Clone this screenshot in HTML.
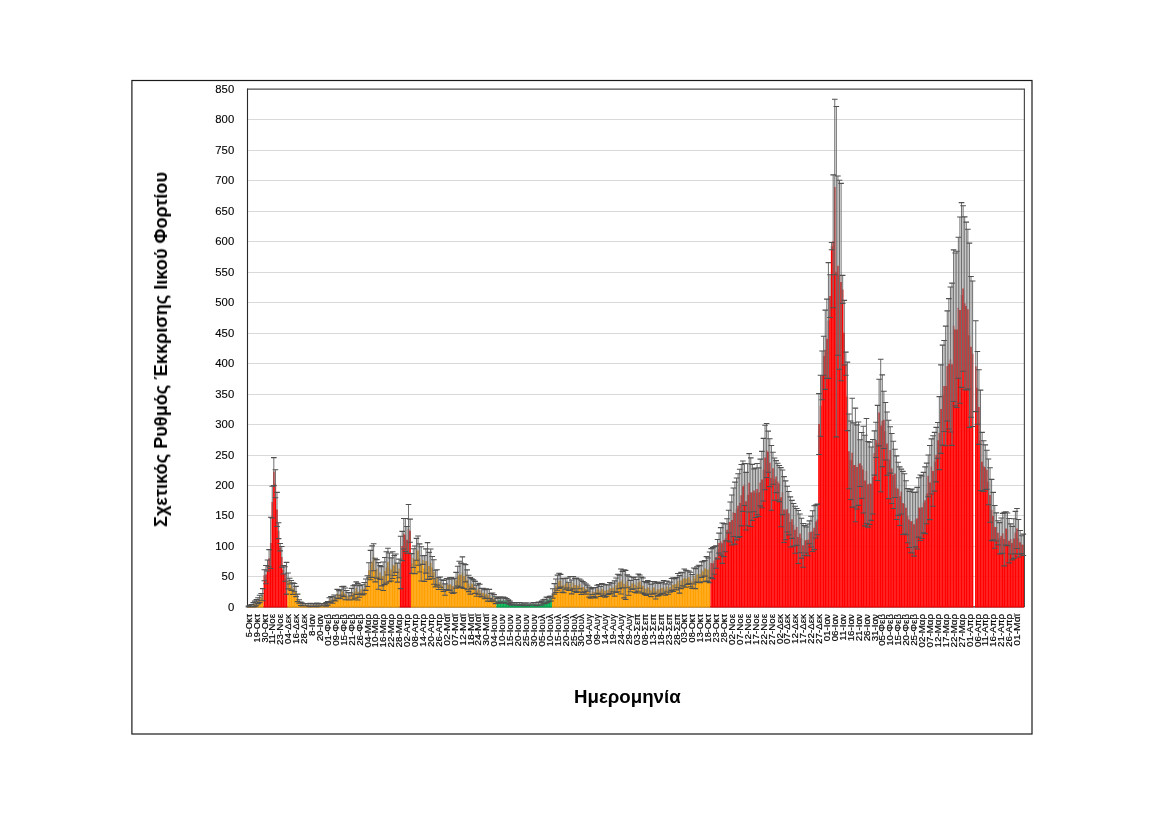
<!DOCTYPE html><html><head><meta charset="utf-8"><style>html,body{margin:0;padding:0;background:#fff;}svg{display:block;}text{font-family:"Liberation Sans",sans-serif;}.gt{opacity:0.999;}</style></head><body><svg width="1169" height="826" viewBox="0 0 1169 826"><rect x="0" y="0" width="1169" height="826" fill="#fff"/><rect x="131.9" y="80.5" width="900.1" height="653.5" fill="none" stroke="#1a1a1a" stroke-width="1.2"/><path d="M247.7 576.50H1024 M247.7 546.50H1024 M247.7 515.50H1024 M247.7 485.50H1024 M247.7 455.50H1024 M247.7 424.50H1024 M247.7 394.50H1024 M247.7 363.50H1024 M247.7 333.50H1024 M247.7 302.50H1024 M247.7 272.50H1024 M247.7 241.50H1024 M247.7 211.50H1024 M247.7 180.50H1024 M247.7 150.50H1024 M247.7 119.50H1024" stroke="#d9d9d9" stroke-width="1" fill="none"/><path d="M247.5 89.2H1024.4V606.90" fill="none" stroke="#4d4d4d" stroke-width="1.2"/><path d="M1024.4 606.90H247.5V88.6" fill="none" stroke="#2a2a2a" stroke-width="1.1"/><path d="M247.76 607.40V606.60h1.46V607.40zM249.34 607.40V606.29h1.46V607.40zM250.93 607.40V605.68h1.46V607.40zM252.51 607.40V605.07h1.46V607.40zM254.10 607.40V603.85h1.46V607.40zM255.68 607.40V602.63h1.46V607.40zM257.27 607.40V600.81h1.46V607.40zM258.85 607.40V598.98h1.46V607.40zM260.44 607.40V597.15h1.46V607.40zM262.02 607.40V594.71h1.46V607.40zM287.37 607.40V580.98h1.46V607.40zM288.96 607.40V581.19h1.46V607.40zM290.54 607.40V585.45h1.46V607.40zM292.13 607.40V588.55h1.46V607.40zM293.71 607.40V587.62h1.46V607.40zM295.30 607.40V591.47h1.46V607.40zM296.88 607.40V597.88h1.46V607.40zM298.46 607.40V601.57h1.46V607.40zM300.05 607.40V603.80h1.46V607.40zM301.63 607.40V604.43h1.46V607.40zM303.22 607.40V604.80h1.46V607.40zM304.80 607.40V604.64h1.46V607.40zM306.39 607.40V604.90h1.46V607.40zM307.97 607.40V605.05h1.46V607.40zM309.56 607.40V604.90h1.46V607.40zM311.14 607.40V604.93h1.46V607.40zM312.72 607.40V605.00h1.46V607.40zM314.31 607.40V605.09h1.46V607.40zM315.89 607.40V604.78h1.46V607.40zM317.48 607.40V604.81h1.46V607.40zM319.06 607.40V605.03h1.46V607.40zM320.65 607.40V605.01h1.46V607.40zM322.23 607.40V604.71h1.46V607.40zM323.82 607.40V604.62h1.46V607.40zM325.40 607.40V604.34h1.46V607.40zM326.98 607.40V603.35h1.46V607.40zM328.57 607.40V600.40h1.46V607.40zM330.15 607.40V599.19h1.46V607.40zM331.74 607.40V600.03h1.46V607.40zM333.32 607.40V597.67h1.46V607.40zM334.91 607.40V597.99h1.46V607.40zM336.49 607.40V593.77h1.46V607.40zM338.08 607.40V594.79h1.46V607.40zM339.66 607.40V593.98h1.46V607.40zM341.25 607.40V590.95h1.46V607.40zM342.83 607.40V591.46h1.46V607.40zM344.41 607.40V593.87h1.46V607.40zM346.00 607.40V595.14h1.46V607.40zM347.58 607.40V596.24h1.46V607.40zM349.17 607.40V596.34h1.46V607.40zM350.75 607.40V592.13h1.46V607.40zM352.34 607.40V592.75h1.46V607.40zM353.92 607.40V591.50h1.46V607.40zM355.51 607.40V588.10h1.46V607.40zM357.09 607.40V591.71h1.46V607.40zM358.68 607.40V591.45h1.46V607.40zM360.26 607.40V589.30h1.46V607.40zM361.84 607.40V589.76h1.46V607.40zM363.43 607.40V588.17h1.46V607.40zM365.01 607.40V584.66h1.46V607.40zM366.60 607.40V581.09h1.46V607.40zM368.18 607.40V570.28h1.46V607.40zM369.77 607.40V565.07h1.46V607.40zM371.35 607.40V561.61h1.46V607.40zM372.94 607.40V557.24h1.46V607.40zM374.52 607.40V570.05h1.46V607.40zM376.10 607.40V568.84h1.46V607.40zM377.69 607.40V575.99h1.46V607.40zM379.27 607.40V572.50h1.46V607.40zM380.86 607.40V576.33h1.46V607.40zM382.44 607.40V576.25h1.46V607.40zM384.03 607.40V571.06h1.46V607.40zM385.61 607.40V567.49h1.46V607.40zM387.20 607.40V561.64h1.46V607.40zM388.78 607.40V567.39h1.46V607.40zM390.36 607.40V569.48h1.46V607.40zM391.95 607.40V565.12h1.46V607.40zM393.53 607.40V565.56h1.46V607.40zM395.12 607.40V563.21h1.46V607.40zM396.70 607.40V572.62h1.46V607.40zM398.29 607.40V568.44h1.46V607.40zM410.96 607.40V563.52h1.46V607.40zM412.55 607.40V558.10h1.46V607.40zM414.13 607.40V559.77h1.46V607.40zM415.72 607.40V549.28h1.46V607.40zM417.30 607.40V550.68h1.46V607.40zM418.89 607.40V557.93h1.46V607.40zM420.47 607.40V563.82h1.46V607.40zM422.06 607.40V560.08h1.46V607.40zM423.64 607.40V568.40h1.46V607.40zM425.22 607.40V561.01h1.46V607.40zM426.81 607.40V560.93h1.46V607.40zM428.39 607.40V565.92h1.46V607.40zM429.98 607.40V562.81h1.46V607.40zM431.56 607.40V567.62h1.46V607.40zM433.15 607.40V571.96h1.46V607.40zM434.73 607.40V578.54h1.46V607.40zM436.32 607.40V577.46h1.46V607.40zM437.90 607.40V583.59h1.46V607.40zM439.48 607.40V582.08h1.46V607.40zM441.07 607.40V584.59h1.46V607.40zM442.65 607.40V585.93h1.46V607.40zM444.24 607.40V589.56h1.46V607.40zM445.82 607.40V584.13h1.46V607.40zM447.41 607.40V584.73h1.46V607.40zM448.99 607.40V583.90h1.46V607.40zM450.58 607.40V584.82h1.46V607.40zM452.16 607.40V586.23h1.46V607.40zM453.75 607.40V585.46h1.46V607.40zM455.33 607.40V580.23h1.46V607.40zM456.91 607.40V576.21h1.46V607.40zM458.50 607.40V574.40h1.46V607.40zM460.08 607.40V575.11h1.46V607.40zM461.67 607.40V572.46h1.46V607.40zM463.25 607.40V576.10h1.46V607.40zM464.84 607.40V573.25h1.46V607.40zM466.42 607.40V579.81h1.46V607.40zM468.01 607.40V583.44h1.46V607.40zM469.59 607.40V585.85h1.46V607.40zM471.17 607.40V583.58h1.46V607.40zM472.76 607.40V584.51h1.46V607.40zM474.34 607.40V587.34h1.46V607.40zM475.93 607.40V590.68h1.46V607.40zM477.51 607.40V588.75h1.46V607.40zM479.10 607.40V590.22h1.46V607.40zM480.68 607.40V592.68h1.46V607.40zM482.27 607.40V592.72h1.46V607.40zM483.85 607.40V594.27h1.46V607.40zM485.44 607.40V593.56h1.46V607.40zM487.02 607.40V595.29h1.46V607.40zM488.60 607.40V593.99h1.46V607.40zM490.19 607.40V597.50h1.46V607.40zM491.77 607.40V596.58h1.46V607.40zM493.36 607.40V598.22h1.46V607.40zM494.94 607.40V600.19h1.46V607.40zM551.98 607.40V593.46h1.46V607.40zM553.57 607.40V588.88h1.46V607.40zM555.15 607.40V585.76h1.46V607.40zM556.74 607.40V582.72h1.46V607.40zM558.32 607.40V580.81h1.46V607.40zM559.91 607.40V580.74h1.46V607.40zM561.49 607.40V585.54h1.46V607.40zM563.08 607.40V585.51h1.46V607.40zM564.66 607.40V583.87h1.46V607.40zM566.24 607.40V583.12h1.46V607.40zM567.83 607.40V586.38h1.46V607.40zM569.41 607.40V583.39h1.46V607.40zM571.00 607.40V586.96h1.46V607.40zM572.58 607.40V582.70h1.46V607.40zM574.17 607.40V584.92h1.46V607.40zM575.75 607.40V585.32h1.46V607.40zM577.34 607.40V585.41h1.46V607.40zM578.92 607.40V583.94h1.46V607.40zM580.50 607.40V587.41h1.46V607.40zM582.09 607.40V587.03h1.46V607.40zM583.67 607.40V587.28h1.46V607.40zM585.26 607.40V589.02h1.46V607.40zM586.84 607.40V588.20h1.46V607.40zM588.43 607.40V592.12h1.46V607.40zM590.01 607.40V593.60h1.46V607.40zM591.60 607.40V591.30h1.46V607.40zM593.18 607.40V592.10h1.46V607.40zM594.77 607.40V592.77h1.46V607.40zM596.35 607.40V589.31h1.46V607.40zM597.93 607.40V589.40h1.46V607.40zM599.52 607.40V591.45h1.46V607.40zM601.10 607.40V588.80h1.46V607.40zM602.69 607.40V589.97h1.46V607.40zM604.27 607.40V590.86h1.46V607.40zM605.86 607.40V590.52h1.46V607.40zM607.44 607.40V589.65h1.46V607.40zM609.03 607.40V588.02h1.46V607.40zM610.61 607.40V588.50h1.46V607.40zM612.19 607.40V587.45h1.46V607.40zM613.78 607.40V588.49h1.46V607.40zM615.36 607.40V585.21h1.46V607.40zM616.95 607.40V582.97h1.46V607.40zM618.53 607.40V581.86h1.46V607.40zM620.12 607.40V581.50h1.46V607.40zM621.70 607.40V579.65h1.46V607.40zM623.29 607.40V583.87h1.46V607.40zM624.87 607.40V584.92h1.46V607.40zM626.46 607.40V581.32h1.46V607.40zM628.04 607.40V585.68h1.46V607.40zM629.62 607.40V586.01h1.46V607.40zM631.21 607.40V583.21h1.46V607.40zM632.79 607.40V583.26h1.46V607.40zM634.38 607.40V584.71h1.46V607.40zM635.96 607.40V586.30h1.46V607.40zM637.55 607.40V582.61h1.46V607.40zM639.13 607.40V581.61h1.46V607.40zM640.72 607.40V584.97h1.46V607.40zM642.30 607.40V585.63h1.46V607.40zM643.88 607.40V587.96h1.46V607.40zM645.47 607.40V588.98h1.46V607.40zM647.05 607.40V587.32h1.46V607.40zM648.64 607.40V587.89h1.46V607.40zM650.22 607.40V590.34h1.46V607.40zM651.81 607.40V587.97h1.46V607.40zM653.39 607.40V587.40h1.46V607.40zM654.98 607.40V591.17h1.46V607.40zM656.56 607.40V589.13h1.46V607.40zM658.15 607.40V589.58h1.46V607.40zM659.73 607.40V588.49h1.46V607.40zM661.31 607.40V587.89h1.46V607.40zM662.90 607.40V587.20h1.46V607.40zM664.48 607.40V589.55h1.46V607.40zM666.07 607.40V586.60h1.46V607.40zM667.65 607.40V589.13h1.46V607.40zM669.24 607.40V587.18h1.46V607.40zM670.82 607.40V584.43h1.46V607.40zM672.41 607.40V584.65h1.46V607.40zM673.99 607.40V584.31h1.46V607.40zM675.57 607.40V583.73h1.46V607.40zM677.16 607.40V580.65h1.46V607.40zM678.74 607.40V584.36h1.46V607.40zM680.33 607.40V580.54h1.46V607.40zM681.91 607.40V579.29h1.46V607.40zM683.50 607.40V578.03h1.46V607.40zM685.08 607.40V578.77h1.46V607.40zM686.67 607.40V577.63h1.46V607.40zM688.25 607.40V577.29h1.46V607.40zM689.84 607.40V579.48h1.46V607.40zM691.42 607.40V581.42h1.46V607.40zM693.00 607.40V576.02h1.46V607.40zM694.59 607.40V578.59h1.46V607.40zM696.17 607.40V574.49h1.46V607.40zM697.76 607.40V573.87h1.46V607.40zM699.34 607.40V574.27h1.46V607.40zM700.93 607.40V569.63h1.46V607.40zM702.51 607.40V571.52h1.46V607.40zM704.10 607.40V568.32h1.46V607.40zM705.68 607.40V568.88h1.46V607.40zM707.26 607.40V569.87h1.46V607.40zM708.85 607.40V567.41h1.46V607.40z" fill="#ffa000"/><path d="M263.61 607.40V575.21h1.46V607.40zM265.19 607.40V574.60h1.46V607.40zM266.77 607.40V565.46h1.46V607.40zM268.36 607.40V558.15h1.46V607.40zM269.94 607.40V542.91h1.46V607.40zM271.53 607.40V502.08h1.46V607.40zM273.11 607.40V471.61h1.46V607.40zM274.70 607.40V483.80h1.46V607.40zM276.28 607.40V509.39h1.46V607.40zM277.87 607.40V530.72h1.46V607.40zM279.45 607.40V547.18h1.46V607.40zM281.03 607.40V556.93h1.46V607.40zM282.62 607.40V569.73h1.46V607.40zM284.20 607.40V573.99h1.46V607.40zM285.79 607.40V578.26h1.46V607.40zM399.87 607.40V562.41h1.46V607.40zM401.46 607.40V545.96h1.46V607.40zM403.04 607.40V533.77h1.46V607.40zM404.63 607.40V534.99h1.46V607.40zM406.21 607.40V539.86h1.46V607.40zM407.79 607.40V528.90h1.46V607.40zM409.38 607.40V530.72h1.46V607.40zM710.43 607.40V563.11h1.46V607.40zM712.02 607.40V563.14h1.46V607.40zM713.60 607.40V560.46h1.46V607.40zM715.19 607.40V556.95h1.46V607.40zM716.77 607.40V549.21h1.46V607.40zM718.36 607.40V543.11h1.46V607.40zM719.94 607.40V541.34h1.46V607.40zM721.53 607.40V543.23h1.46V607.40zM723.11 607.40V540.07h1.46V607.40zM724.69 607.40V537.91h1.46V607.40zM726.28 607.40V529.82h1.46V607.40zM727.86 607.40V521.65h1.46V607.40zM729.45 607.40V522.02h1.46V607.40zM731.03 607.40V519.97h1.46V607.40zM732.62 607.40V512.25h1.46V607.40zM734.20 607.40V513.11h1.46V607.40zM735.79 607.40V508.92h1.46V607.40zM737.37 607.40V505.65h1.46V607.40zM738.95 607.40V502.94h1.46V607.40zM740.54 607.40V495.19h1.46V607.40zM742.12 607.40V486.18h1.46V607.40zM743.71 607.40V484.52h1.46V607.40zM745.29 607.40V501.19h1.46V607.40zM746.88 607.40V494.71h1.46V607.40zM748.46 607.40V482.78h1.46V607.40zM750.05 607.40V492.18h1.46V607.40zM751.63 607.40V492.39h1.46V607.40zM753.22 607.40V490.38h1.46V607.40zM754.80 607.40V492.77h1.46V607.40zM756.38 607.40V489.09h1.46V607.40zM757.97 607.40V492.18h1.46V607.40zM759.55 607.40V482.49h1.46V607.40zM761.14 607.40V479.52h1.46V607.40zM762.72 607.40V469.70h1.46V607.40zM764.31 607.40V457.48h1.46V607.40zM765.89 607.40V450.56h1.46V607.40zM767.48 607.40V451.72h1.46V607.40zM769.06 607.40V462.66h1.46V607.40zM770.64 607.40V477.92h1.46V607.40zM772.23 607.40V468.23h1.46V607.40zM773.81 607.40V479.17h1.46V607.40zM775.40 607.40V476.60h1.46V607.40zM776.98 607.40V481.60h1.46V607.40zM778.57 607.40V483.60h1.46V607.40zM780.15 607.40V497.24h1.46V607.40zM781.74 607.40V492.31h1.46V607.40zM783.32 607.40V509.56h1.46V607.40zM784.91 607.40V510.29h1.46V607.40zM786.49 607.40V509.10h1.46V607.40zM788.07 607.40V513.20h1.46V607.40zM789.66 607.40V521.95h1.46V607.40zM791.24 607.40V519.36h1.46V607.40zM792.83 607.40V524.75h1.46V607.40zM794.41 607.40V529.77h1.46V607.40zM796.00 607.40V526.93h1.46V607.40zM797.58 607.40V537.06h1.46V607.40zM799.17 607.40V533.39h1.46V607.40zM800.75 607.40V538.19h1.46V607.40zM802.34 607.40V545.34h1.46V607.40zM803.92 607.40V540.54h1.46V607.40zM805.50 607.40V539.99h1.46V607.40zM807.09 607.40V539.78h1.46V607.40zM808.67 607.40V532.32h1.46V607.40zM810.26 607.40V531.63h1.46V607.40zM811.84 607.40V531.15h1.46V607.40zM813.43 607.40V527.71h1.46V607.40zM815.01 607.40V521.43h1.46V607.40zM816.60 607.40V519.43h1.46V607.40zM818.18 607.40V424.08h1.46V607.40zM819.76 607.40V405.79h1.46V607.40zM821.35 607.40V375.32h1.46V607.40zM822.93 607.40V355.82h1.46V607.40zM824.52 607.40V349.73h1.46V607.40zM826.10 607.40V338.76h1.46V607.40zM827.69 607.40V320.48h1.46V607.40zM829.27 607.40V296.10h1.46V607.40zM830.86 607.40V246.13h1.46V607.40zM832.44 607.40V241.25h1.46V607.40zM834.02 607.40V187.02h1.46V607.40zM835.61 607.40V271.72h1.46V607.40zM837.19 607.40V265.63h1.46V607.40zM838.78 607.40V274.77h1.46V607.40zM840.36 607.40V282.08h1.46V607.40zM841.95 607.40V289.40h1.46V607.40zM843.53 607.40V332.66h1.46V607.40zM845.12 607.40V363.74h1.46V607.40zM846.70 607.40V396.40h1.46V607.40zM848.29 607.40V451.37h1.46V607.40zM849.87 607.40V460.25h1.46V607.40zM851.45 607.40V452.68h1.46V607.40zM853.04 607.40V464.93h1.46V607.40zM854.62 607.40V464.93h1.46V607.40zM856.21 607.40V466.94h1.46V607.40zM857.79 607.40V463.68h1.46V607.40zM859.38 607.40V463.19h1.46V607.40zM860.96 607.40V465.44h1.46V607.40zM862.55 607.40V469.62h1.46V607.40zM864.13 607.40V480.55h1.46V607.40zM865.71 607.40V471.01h1.46V607.40zM867.30 607.40V484.31h1.46V607.40zM868.88 607.40V483.24h1.46V607.40zM870.47 607.40V483.73h1.46V607.40zM872.05 607.40V476.75h1.46V607.40zM873.64 607.40V453.04h1.46V607.40zM875.22 607.40V439.91h1.46V607.40zM876.81 607.40V442.95h1.46V607.40zM878.39 607.40V412.55h1.46V607.40zM879.98 607.40V425.51h1.46V607.40zM881.56 607.40V420.77h1.46V607.40zM883.14 607.40V419.85h1.46V607.40zM884.73 607.40V431.24h1.46V607.40zM886.31 607.40V443.62h1.46V607.40zM887.90 607.40V459.44h1.46V607.40zM889.48 607.40V449.98h1.46V607.40zM891.07 607.40V468.47h1.46V607.40zM892.65 607.40V474.94h1.46V607.40zM894.24 607.40V473.38h1.46V607.40zM895.82 607.40V487.73h1.46V607.40zM897.40 607.40V488.78h1.46V607.40zM898.99 607.40V496.22h1.46V607.40zM900.57 607.40V491.61h1.46V607.40zM902.16 607.40V502.93h1.46V607.40zM903.74 607.40V503.89h1.46V607.40zM905.33 607.40V507.72h1.46V607.40zM906.91 607.40V515.71h1.46V607.40zM908.50 607.40V519.50h1.46V607.40zM910.08 607.40V521.37h1.46V607.40zM911.67 607.40V520.99h1.46V607.40zM913.25 607.40V524.32h1.46V607.40zM914.83 607.40V519.48h1.46V607.40zM916.42 607.40V518.24h1.46V607.40zM918.00 607.40V507.46h1.46V607.40zM919.59 607.40V507.75h1.46V607.40zM921.17 607.40V507.24h1.46V607.40zM922.76 607.40V502.63h1.46V607.40zM924.34 607.40V500.26h1.46V607.40zM925.93 607.40V493.44h1.46V607.40zM927.51 607.40V475.84h1.46V607.40zM929.10 607.40V482.57h1.46V607.40zM930.68 607.40V466.44h1.46V607.40zM932.26 607.40V470.98h1.46V607.40zM933.85 607.40V461.76h1.46V607.40zM935.43 607.40V454.64h1.46V607.40zM937.02 607.40V440.34h1.46V607.40zM938.60 607.40V433.10h1.46V607.40zM940.19 607.40V409.10h1.46V607.40zM941.77 607.40V395.14h1.46V607.40zM943.36 607.40V385.97h1.46V607.40zM944.94 607.40V385.96h1.46V607.40zM946.52 607.40V365.99h1.46V607.40zM948.11 607.40V363.81h1.46V607.40zM949.69 607.40V359.51h1.46V607.40zM951.28 607.40V364.24h1.46V607.40zM952.86 607.40V325.73h1.46V607.40zM954.45 607.40V329.49h1.46V607.40zM956.03 607.40V329.38h1.46V607.40zM957.62 607.40V307.71h1.46V607.40zM959.20 607.40V310.08h1.46V607.40zM960.78 607.40V295.01h1.46V607.40zM962.37 607.40V288.51h1.46V607.40zM963.95 607.40V303.30h1.46V607.40zM965.54 607.40V306.08h1.46V607.40zM967.12 607.40V309.17h1.46V607.40zM968.71 607.40V335.26h1.46V607.40zM970.29 607.40V346.87h1.46V607.40zM971.88 607.40V353.73h1.46V607.40zM975.05 607.40V366.22h1.46V607.40zM976.63 607.40V387.85h1.46V607.40zM978.21 607.40V407.07h1.46V607.40zM979.80 607.40V440.30h1.46V607.40zM981.38 607.40V461.65h1.46V607.40zM982.97 607.40V466.15h1.46V607.40zM984.55 607.40V467.29h1.46V607.40zM986.14 607.40V469.77h1.46V607.40zM987.72 607.40V481.90h1.46V607.40zM989.31 607.40V495.06h1.46V607.40zM990.89 607.40V510.00h1.46V607.40zM992.47 607.40V516.06h1.46V607.40zM994.06 607.40V526.90h1.46V607.40zM995.64 607.40V526.93h1.46V607.40zM997.23 607.40V532.76h1.46V607.40zM998.81 607.40V538.32h1.46V607.40zM1000.40 607.40V535.84h1.46V607.40zM1001.98 607.40V533.37h1.46V607.40zM1003.57 607.40V539.02h1.46V607.40zM1005.15 607.40V528.43h1.46V607.40zM1006.74 607.40V529.32h1.46V607.40zM1008.32 607.40V540.71h1.46V607.40zM1009.90 607.40V538.94h1.46V607.40zM1011.49 607.40V543.12h1.46V607.40zM1013.07 607.40V538.51h1.46V607.40zM1014.66 607.40V532.62h1.46V607.40zM1016.24 607.40V528.46h1.46V607.40zM1017.83 607.40V538.25h1.46V607.40zM1019.41 607.40V542.36h1.46V607.40zM1021.00 607.40V544.61h1.46V607.40zM1022.58 607.40V544.77h1.46V607.40z" fill="#ff0000"/><path d="M496.53 607.40V600.93h1.46V607.40zM498.11 607.40V600.15h1.46V607.40zM499.70 607.40V599.49h1.46V607.40zM501.28 607.40V600.71h1.46V607.40zM502.86 607.40V599.85h1.46V607.40zM504.45 607.40V600.39h1.46V607.40zM506.03 607.40V600.86h1.46V607.40zM507.62 607.40V601.77h1.46V607.40zM509.20 607.40V602.74h1.46V607.40zM510.79 607.40V603.86h1.46V607.40zM512.37 607.40V603.70h1.46V607.40zM513.96 607.40V604.08h1.46V607.40zM515.54 607.40V603.79h1.46V607.40zM517.12 607.40V603.90h1.46V607.40zM518.71 607.40V604.10h1.46V607.40zM520.29 607.40V603.76h1.46V607.40zM521.88 607.40V603.78h1.46V607.40zM523.46 607.40V604.40h1.46V607.40zM525.05 607.40V604.09h1.46V607.40zM526.63 607.40V604.30h1.46V607.40zM528.22 607.40V603.99h1.46V607.40zM529.80 607.40V603.95h1.46V607.40zM531.39 607.40V604.08h1.46V607.40zM532.97 607.40V603.96h1.46V607.40zM534.55 607.40V603.95h1.46V607.40zM536.14 607.40V604.20h1.46V607.40zM537.72 607.40V603.55h1.46V607.40zM539.31 607.40V603.80h1.46V607.40zM540.89 607.40V603.05h1.46V607.40zM542.48 607.40V601.43h1.46V607.40zM544.06 607.40V601.58h1.46V607.40zM545.65 607.40V600.03h1.46V607.40zM547.23 607.40V599.79h1.46V607.40zM548.81 607.40V598.82h1.46V607.40zM550.40 607.40V598.47h1.46V607.40z" fill="#00b050"/><path d="M248.49 605.99V606.90M250.08 605.07V606.90M251.66 604.46V606.90M253.25 602.63V606.90M254.83 601.11V606.60M256.41 599.59V605.68M258.00 597.76V603.85M259.58 595.32V602.63M261.17 593.49V600.81M262.75 588.62V600.81M264.34 569.73V580.70M265.92 565.46V583.74M267.51 559.98V570.94M269.09 549.62V566.68M270.68 517.32V568.51M272.26 486.24V517.93M273.84 457.59V485.63M275.43 469.78V497.82M277.01 492.33V526.46M278.60 522.80V538.65M280.18 543.52V550.83M281.77 546.57V567.29M283.35 565.46V573.99M284.94 566.68V581.30M286.52 562.41V594.10M288.10 573.07V588.89M289.69 578.32V584.06M291.27 580.49V590.40M292.86 582.77V594.34M294.44 583.52V591.73M296.03 586.36V596.59M297.61 594.14V601.61M299.20 599.82V603.32M300.78 602.04V605.55M302.37 602.95V605.90M303.95 603.63V605.96M305.53 603.50V605.78M307.12 603.75V606.06M308.70 603.80V606.31M310.29 603.19V606.61M311.87 603.53V606.32M313.46 603.59V606.41M315.04 604.05V606.13M316.63 602.98V606.59M318.21 603.35V606.27M319.79 604.02V606.05M321.38 604.03V605.98M322.96 603.60V605.82M324.55 603.52V605.72M326.13 602.58V606.11M327.72 601.62V605.09M329.30 597.75V603.05M330.89 596.50V601.88M332.47 596.86V603.20M334.06 595.04V600.31M335.64 594.95V601.02M337.22 589.41V598.13M338.81 590.76V598.82M340.39 589.78V598.17M341.98 586.67V595.22M343.56 586.41V596.52M345.15 587.93V599.81M346.73 590.46V599.82M348.32 592.55V599.93M349.90 592.72V599.97M351.48 588.35V595.91M353.07 585.78V599.72M354.65 584.84V598.15M356.24 581.83V594.37M357.82 583.42V599.99M359.41 585.70V597.21M360.99 584.76V593.85M362.58 584.68V594.84M364.16 582.52V593.82M365.75 578.97V590.35M367.33 575.69V586.50M368.91 562.75V577.81M370.50 550.34V579.80M372.08 545.83V577.40M373.67 543.78V570.70M375.25 558.25V581.85M376.84 559.59V578.09M378.42 562.67V589.31M380.01 565.61V579.40M381.59 566.76V585.90M383.17 562.05V590.44M384.76 557.48V584.64M386.34 551.82V583.15M387.93 548.32V574.96M389.51 552.98V581.80M391.10 557.92V581.03M392.68 551.74V578.50M394.27 555.55V575.57M395.85 554.07V572.34M397.44 563.16V582.08M399.02 559.17V577.71M400.60 536.21V588.62M402.19 531.33V560.58M403.77 518.54V549.01M405.36 518.54V551.44M406.94 526.46V553.27M408.53 504.52V553.27M410.11 519.14V542.30M411.70 553.64V573.39M413.28 548.77V567.43M414.86 545.95V573.59M416.45 538.37V560.20M418.03 536.06V565.31M419.62 543.85V572.02M421.20 546.69V580.94M422.79 555.82V564.33M424.37 555.44V581.37M425.96 548.84V573.17M427.54 542.65V579.21M429.13 552.38V579.47M430.71 549.05V576.57M432.29 556.48V578.76M433.88 559.73V584.19M435.46 570.24V586.84M437.05 569.80V585.11M438.63 577.69V589.49M440.22 576.93V587.22M441.80 579.70V589.48M443.39 580.44V591.41M444.97 583.84V595.29M446.55 578.65V589.62M448.14 579.13V590.33M449.72 577.70V590.09M451.31 577.45V592.18M452.89 578.98V593.48M454.48 578.22V592.71M456.06 572.36V588.10M457.65 566.29V586.13M459.23 561.24V587.56M460.82 563.08V587.14M462.40 556.86V588.06M463.98 563.72V588.48M465.57 564.59V581.91M467.15 569.91V589.71M468.74 575.24V591.64M470.32 577.61V594.10M471.91 578.75V588.40M473.49 579.89V589.13M475.08 581.33V593.36M476.66 585.12V596.23M478.24 583.32V594.19M479.83 584.21V596.22M481.41 588.41V596.96M483.00 588.37V597.06M484.58 589.74V598.80M486.17 588.87V598.25M487.75 589.50V601.08M489.34 589.38V598.61M490.92 593.48V601.51M492.51 593.03V600.14M494.09 594.63V601.81M495.67 596.71V603.66M497.26 598.38V603.48M498.84 597.62V602.69M500.43 596.91V602.07M502.01 598.18V603.25M503.60 597.15V602.54M505.18 597.69V603.08M506.77 598.46V603.26M508.35 599.92V603.63M509.93 601.14V604.34M511.52 602.44V605.28M513.10 602.52V604.88M514.69 602.86V605.31M516.27 602.52V605.07M517.86 602.58V605.22M519.44 602.63V605.57M521.03 602.69V604.83M522.61 602.75V604.82M524.20 603.09V605.72M525.78 602.87V605.31M527.36 602.93V605.68M528.95 602.99V605.00M530.53 602.96V604.95M532.12 602.97V605.20M533.70 602.67V605.25M535.29 602.73V605.16M536.87 602.67V605.73M538.46 601.93V605.16M540.04 602.39V605.20M541.62 601.08V605.02M543.21 599.82V603.05M544.79 599.41V603.75M546.38 597.08V602.97M547.96 597.35V602.23M549.55 596.38V601.26M551.13 596.01V600.93M552.72 588.80V598.11M554.30 583.64V594.11M555.89 579.03V592.49M557.47 575.15V590.29M559.05 573.25V588.37M560.64 574.40V587.08M562.22 578.76V592.33M563.81 578.26V592.76M565.39 578.42V589.32M566.98 578.17V588.07M568.56 582.30V590.46M570.15 576.64V590.14M571.73 580.01V593.91M573.31 576.50V588.90M574.90 578.51V591.33M576.48 578.12V592.53M578.07 578.93V591.88M579.65 579.07V588.81M581.24 580.25V594.57M582.82 581.43V592.64M584.41 582.68V591.89M585.99 583.96V594.09M587.58 585.24V591.17M589.16 587.09V597.15M590.74 588.97V598.22M592.33 588.07V594.53M593.91 587.58V596.62M595.50 587.67V597.87M597.08 585.32V593.31M598.67 584.63V594.18M600.25 586.47V596.43M601.84 583.60V594.00M603.42 584.27V595.67M605.00 584.46V597.27M606.59 584.86V596.19M608.17 584.89V594.41M609.76 582.54V593.50M611.34 583.11V593.89M612.93 583.06V591.85M614.51 580.84V596.14M616.10 577.93V592.49M617.68 574.26V591.69M619.27 575.09V588.64M620.85 569.01V593.99M622.43 571.42V587.87M624.02 569.86V597.89M625.60 570.38V599.47M627.19 574.83V587.81M628.77 576.19V595.18M630.36 580.34V591.69M631.94 577.03V589.40M633.53 577.81V588.71M635.11 577.03V592.38M636.69 579.57V593.03M638.28 574.00V591.23M639.86 574.94V588.29M641.45 577.04V592.89M643.03 578.05V593.21M644.62 581.50V594.41M646.20 582.60V595.35M647.79 580.46V594.17M649.37 581.62V594.16M650.96 584.11V596.58M652.54 581.67V594.26M654.12 581.56V593.23M655.71 583.29V599.05M657.29 582.13V596.13M658.88 583.48V595.67M660.46 582.57V594.42M662.05 582.39V593.38M663.63 580.65V593.75M665.22 583.91V595.20M666.80 581.14V592.06M668.38 584.00V594.26M669.97 582.13V592.23M671.55 578.49V590.36M673.14 577.77V591.54M674.72 578.59V590.02M676.31 577.60V589.85M677.89 573.56V587.74M679.48 575.64V593.08M681.06 572.40V588.67M682.65 572.81V585.77M684.23 569.03V587.03M685.81 570.22V587.32M687.40 570.83V584.43M688.98 570.94V583.64M690.57 572.28V586.69M692.15 574.45V588.38M693.74 568.01V584.02M695.32 568.59V588.58M696.91 566.82V582.15M698.49 565.25V582.49M700.07 565.73V582.82M701.66 561.92V577.33M703.24 561.25V581.79M704.83 560.51V576.13M706.41 556.67V581.09M708.00 558.01V581.74M709.58 552.05V582.76M711.17 548.61V577.60M712.75 547.64V578.64M714.34 546.67V574.25M715.92 545.70V568.19M717.50 539.51V558.90M719.09 533.10V553.13M720.67 527.60V555.08M722.26 523.07V563.39M723.84 523.56V556.58M725.43 524.04V551.77M727.01 518.80V540.83M728.60 510.31V532.99M730.18 501.99V542.06M731.76 494.99V544.94M733.35 487.99V536.50M734.93 482.13V544.08M736.52 477.97V539.86M738.10 473.81V537.48M739.69 469.22V536.65M741.27 464.49V525.90M742.86 460.94V511.42M744.44 463.55V505.49M746.03 472.36V530.02M747.61 463.73V525.70M749.19 453.62V511.94M750.78 457.89V526.47M752.36 464.35V520.42M753.95 469.03V511.73M755.53 468.01V517.53M757.12 463.45V514.73M758.70 467.90V516.46M760.29 459.13V505.84M761.87 451.34V507.71M763.45 438.40V501.00M765.04 425.24V489.72M766.62 423.56V477.55M768.21 431.13V472.31M769.79 438.71V486.62M771.38 445.52V510.32M772.96 452.22V484.24M774.55 458.03V500.30M776.13 460.63V492.58M777.72 463.24V499.97M779.30 465.54V501.66M780.88 467.67V526.80M782.47 469.95V514.67M784.05 476.65V542.46M785.64 480.83V539.74M787.22 486.22V531.97M788.81 491.53V534.87M790.39 496.85V547.06M791.98 500.36V538.35M793.56 503.44V546.07M795.14 506.31V553.23M796.73 508.44V545.41M798.31 510.57V563.56M799.90 514.04V552.74M801.48 518.30V558.08M803.07 523.47V567.21M804.65 525.63V555.45M806.24 527.05V552.93M807.82 523.97V555.59M809.41 520.89V543.74M810.99 516.19V547.06M812.57 510.74V551.55M814.16 505.76V549.66M815.74 504.93V537.94M817.33 504.10V534.76M818.91 393.61V454.55M820.50 375.32V436.26M822.08 350.95V399.70M823.67 336.32V375.32M825.25 310.12V389.34M826.83 299.15V378.37M828.42 262.58V378.37M830.00 274.77V317.43M831.59 242.47V249.78M833.17 174.83V307.68M834.76 99.26V274.77M836.34 106.57V436.87M837.93 176.05V355.21M839.51 180.31V369.23M841.10 183.36V380.81M842.68 275.38V303.41M844.26 300.37V364.96M845.85 352.17V375.32M847.43 362.17V430.63M849.02 413.98V488.76M850.60 421.07V499.44M852.19 398.26V507.11M853.77 422.85V507.02M855.36 408.15V521.71M856.94 424.92V508.95M858.52 421.99V505.37M860.11 439.81V486.57M861.69 432.49V498.38M863.28 426.23V513.01M864.86 435.24V525.86M866.45 418.47V523.54M868.03 441.50V527.13M869.62 442.08V524.40M871.20 447.06V520.40M872.79 439.56V513.94M874.37 430.91V475.16M875.95 422.27V457.55M877.54 405.42V480.48M879.12 379.19V445.91M880.71 359.31V491.72M882.29 374.89V466.65M883.88 391.24V448.46M885.46 402.52V459.96M887.05 411.96V475.27M888.63 420.26V498.62M890.21 426.82V473.14M891.80 433.45V503.49M893.38 441.32V508.56M894.97 449.19V497.57M896.55 455.91V519.54M898.14 462.21V515.35M899.72 466.92V525.53M901.31 469.17V514.05M902.89 471.42V534.44M904.48 473.68V534.10M906.06 480.75V534.69M907.64 488.62V542.80M909.23 491.55V547.45M910.81 489.97V552.76M912.40 488.99V552.99M913.98 492.51V556.13M915.57 492.14V546.83M917.15 487.42V549.05M918.74 477.79V537.14M920.32 475.02V540.47M921.90 476.04V538.44M923.49 472.40V532.87M925.07 466.89V533.62M926.66 463.10V523.79M928.24 454.95V496.73M929.83 445.51V519.62M931.41 438.90V493.98M933.00 435.75V506.21M934.58 432.39V491.12M936.17 427.41V481.88M937.75 422.43V458.26M939.33 396.60V469.59M940.92 364.87V453.34M942.50 345.15V445.13M944.09 340.49V431.44M945.67 326.17V445.76M947.26 310.92V421.06M948.84 298.61V429.01M950.43 287.02V431.99M952.01 283.14V445.35M953.59 249.92V401.55M955.18 253.06V405.91M956.76 251.25V407.51M958.35 237.23V378.20M959.93 216.96V403.20M961.52 202.65V387.38M963.10 205.81V371.20M964.69 216.85V389.75M966.27 222.14V390.01M967.86 229.21V389.12M969.44 243.12V427.39M971.02 276.56V417.18M972.61 280.96V426.50M975.78 320.76V411.67M977.36 351.47V424.23M978.95 369.76V444.38M980.53 390.13V490.48M982.12 432.34V490.97M983.70 440.80V491.50M985.28 444.83V489.75M986.87 450.26V489.28M988.45 459.04V504.77M990.04 467.82V522.29M991.62 479.34V540.66M993.21 492.36V539.76M994.79 505.51V548.30M996.38 512.88V540.99M997.96 520.69V544.83M999.55 522.66V553.98M1001.13 518.04V553.65M1002.71 513.41V553.32M1004.30 512.18V565.86M1005.88 511.70V545.15M1007.47 512.97V545.67M1009.05 518.50V562.92M1010.64 523.89V554.00M1012.22 526.38V559.86M1013.81 518.68V558.34M1015.39 511.40V553.84M1016.97 508.45V548.48M1018.56 519.48V557.01M1020.14 530.51V554.20M1021.73 535.72V553.50M1023.31 534.11V555.43" stroke="#6e6e6e" stroke-width="1.0" fill="none"/><path d="M245.69 605.99h5.6M245.69 606.90h5.6M247.28 605.07h5.6M247.28 606.90h5.6M248.86 604.46h5.6M248.86 606.90h5.6M250.45 602.63h5.6M250.45 606.90h5.6M252.03 601.11h5.6M252.03 606.60h5.6M253.61 599.59h5.6M253.61 605.68h5.6M255.20 597.76h5.6M255.20 603.85h5.6M256.78 595.32h5.6M256.78 602.63h5.6M258.37 593.49h5.6M258.37 600.81h5.6M259.95 588.62h5.6M259.95 600.81h5.6M261.54 569.73h5.6M261.54 580.70h5.6M263.12 565.46h5.6M263.12 583.74h5.6M264.71 559.98h5.6M264.71 570.94h5.6M266.29 549.62h5.6M266.29 566.68h5.6M267.88 517.32h5.6M267.88 568.51h5.6M269.46 486.24h5.6M269.46 517.93h5.6M271.04 457.59h5.6M271.04 485.63h5.6M272.63 469.78h5.6M272.63 497.82h5.6M274.21 492.33h5.6M274.21 526.46h5.6M275.80 522.80h5.6M275.80 538.65h5.6M277.38 543.52h5.6M277.38 550.83h5.6M278.97 546.57h5.6M278.97 567.29h5.6M280.55 565.46h5.6M280.55 573.99h5.6M282.14 566.68h5.6M282.14 581.30h5.6M283.72 562.41h5.6M283.72 594.10h5.6M285.30 573.07h5.6M285.30 588.89h5.6M286.89 578.32h5.6M286.89 584.06h5.6M288.47 580.49h5.6M288.47 590.40h5.6M290.06 582.77h5.6M290.06 594.34h5.6M291.64 583.52h5.6M291.64 591.73h5.6M293.23 586.36h5.6M293.23 596.59h5.6M294.81 594.14h5.6M294.81 601.61h5.6M296.40 599.82h5.6M296.40 603.32h5.6M297.98 602.04h5.6M297.98 605.55h5.6M299.57 602.95h5.6M299.57 605.90h5.6M301.15 603.63h5.6M301.15 605.96h5.6M302.73 603.50h5.6M302.73 605.78h5.6M304.32 603.75h5.6M304.32 606.06h5.6M305.90 603.80h5.6M305.90 606.31h5.6M307.49 603.19h5.6M307.49 606.61h5.6M309.07 603.53h5.6M309.07 606.32h5.6M310.66 603.59h5.6M310.66 606.41h5.6M312.24 604.05h5.6M312.24 606.13h5.6M313.83 602.98h5.6M313.83 606.59h5.6M315.41 603.35h5.6M315.41 606.27h5.6M316.99 604.02h5.6M316.99 606.05h5.6M318.58 604.03h5.6M318.58 605.98h5.6M320.16 603.60h5.6M320.16 605.82h5.6M321.75 603.52h5.6M321.75 605.72h5.6M323.33 602.58h5.6M323.33 606.11h5.6M324.92 601.62h5.6M324.92 605.09h5.6M326.50 597.75h5.6M326.50 603.05h5.6M328.09 596.50h5.6M328.09 601.88h5.6M329.67 596.86h5.6M329.67 603.20h5.6M331.26 595.04h5.6M331.26 600.31h5.6M332.84 594.95h5.6M332.84 601.02h5.6M334.42 589.41h5.6M334.42 598.13h5.6M336.01 590.76h5.6M336.01 598.82h5.6M337.59 589.78h5.6M337.59 598.17h5.6M339.18 586.67h5.6M339.18 595.22h5.6M340.76 586.41h5.6M340.76 596.52h5.6M342.35 587.93h5.6M342.35 599.81h5.6M343.93 590.46h5.6M343.93 599.82h5.6M345.52 592.55h5.6M345.52 599.93h5.6M347.10 592.72h5.6M347.10 599.97h5.6M348.68 588.35h5.6M348.68 595.91h5.6M350.27 585.78h5.6M350.27 599.72h5.6M351.85 584.84h5.6M351.85 598.15h5.6M353.44 581.83h5.6M353.44 594.37h5.6M355.02 583.42h5.6M355.02 599.99h5.6M356.61 585.70h5.6M356.61 597.21h5.6M358.19 584.76h5.6M358.19 593.85h5.6M359.78 584.68h5.6M359.78 594.84h5.6M361.36 582.52h5.6M361.36 593.82h5.6M362.95 578.97h5.6M362.95 590.35h5.6M364.53 575.69h5.6M364.53 586.50h5.6M366.11 562.75h5.6M366.11 577.81h5.6M367.70 550.34h5.6M367.70 579.80h5.6M369.28 545.83h5.6M369.28 577.40h5.6M370.87 543.78h5.6M370.87 570.70h5.6M372.45 558.25h5.6M372.45 581.85h5.6M374.04 559.59h5.6M374.04 578.09h5.6M375.62 562.67h5.6M375.62 589.31h5.6M377.21 565.61h5.6M377.21 579.40h5.6M378.79 566.76h5.6M378.79 585.90h5.6M380.37 562.05h5.6M380.37 590.44h5.6M381.96 557.48h5.6M381.96 584.64h5.6M383.54 551.82h5.6M383.54 583.15h5.6M385.13 548.32h5.6M385.13 574.96h5.6M386.71 552.98h5.6M386.71 581.80h5.6M388.30 557.92h5.6M388.30 581.03h5.6M389.88 551.74h5.6M389.88 578.50h5.6M391.47 555.55h5.6M391.47 575.57h5.6M393.05 554.07h5.6M393.05 572.34h5.6M394.64 563.16h5.6M394.64 582.08h5.6M396.22 559.17h5.6M396.22 577.71h5.6M397.80 536.21h5.6M397.80 588.62h5.6M399.39 531.33h5.6M399.39 560.58h5.6M400.97 518.54h5.6M400.97 549.01h5.6M402.56 518.54h5.6M402.56 551.44h5.6M404.14 526.46h5.6M404.14 553.27h5.6M405.73 504.52h5.6M405.73 553.27h5.6M407.31 519.14h5.6M407.31 542.30h5.6M408.90 553.64h5.6M408.90 573.39h5.6M410.48 548.77h5.6M410.48 567.43h5.6M412.06 545.95h5.6M412.06 573.59h5.6M413.65 538.37h5.6M413.65 560.20h5.6M415.23 536.06h5.6M415.23 565.31h5.6M416.82 543.85h5.6M416.82 572.02h5.6M418.40 546.69h5.6M418.40 580.94h5.6M419.99 555.82h5.6M419.99 564.33h5.6M421.57 555.44h5.6M421.57 581.37h5.6M423.16 548.84h5.6M423.16 573.17h5.6M424.74 542.65h5.6M424.74 579.21h5.6M426.33 552.38h5.6M426.33 579.47h5.6M427.91 549.05h5.6M427.91 576.57h5.6M429.49 556.48h5.6M429.49 578.76h5.6M431.08 559.73h5.6M431.08 584.19h5.6M432.66 570.24h5.6M432.66 586.84h5.6M434.25 569.80h5.6M434.25 585.11h5.6M435.83 577.69h5.6M435.83 589.49h5.6M437.42 576.93h5.6M437.42 587.22h5.6M439.00 579.70h5.6M439.00 589.48h5.6M440.59 580.44h5.6M440.59 591.41h5.6M442.17 583.84h5.6M442.17 595.29h5.6M443.75 578.65h5.6M443.75 589.62h5.6M445.34 579.13h5.6M445.34 590.33h5.6M446.92 577.70h5.6M446.92 590.09h5.6M448.51 577.45h5.6M448.51 592.18h5.6M450.09 578.98h5.6M450.09 593.48h5.6M451.68 578.22h5.6M451.68 592.71h5.6M453.26 572.36h5.6M453.26 588.10h5.6M454.85 566.29h5.6M454.85 586.13h5.6M456.43 561.24h5.6M456.43 587.56h5.6M458.02 563.08h5.6M458.02 587.14h5.6M459.60 556.86h5.6M459.60 588.06h5.6M461.18 563.72h5.6M461.18 588.48h5.6M462.77 564.59h5.6M462.77 581.91h5.6M464.35 569.91h5.6M464.35 589.71h5.6M465.94 575.24h5.6M465.94 591.64h5.6M467.52 577.61h5.6M467.52 594.10h5.6M469.11 578.75h5.6M469.11 588.40h5.6M470.69 579.89h5.6M470.69 589.13h5.6M472.28 581.33h5.6M472.28 593.36h5.6M473.86 585.12h5.6M473.86 596.23h5.6M475.44 583.32h5.6M475.44 594.19h5.6M477.03 584.21h5.6M477.03 596.22h5.6M478.61 588.41h5.6M478.61 596.96h5.6M480.20 588.37h5.6M480.20 597.06h5.6M481.78 589.74h5.6M481.78 598.80h5.6M483.37 588.87h5.6M483.37 598.25h5.6M484.95 589.50h5.6M484.95 601.08h5.6M486.54 589.38h5.6M486.54 598.61h5.6M488.12 593.48h5.6M488.12 601.51h5.6M489.71 593.03h5.6M489.71 600.14h5.6M491.29 594.63h5.6M491.29 601.81h5.6M492.87 596.71h5.6M492.87 603.66h5.6M494.46 598.38h5.6M494.46 603.48h5.6M496.04 597.62h5.6M496.04 602.69h5.6M497.63 596.91h5.6M497.63 602.07h5.6M499.21 598.18h5.6M499.21 603.25h5.6M500.80 597.15h5.6M500.80 602.54h5.6M502.38 597.69h5.6M502.38 603.08h5.6M503.97 598.46h5.6M503.97 603.26h5.6M505.55 599.92h5.6M505.55 603.63h5.6M507.13 601.14h5.6M507.13 604.34h5.6M508.72 602.44h5.6M508.72 605.28h5.6M510.30 602.52h5.6M510.30 604.88h5.6M511.89 602.86h5.6M511.89 605.31h5.6M513.47 602.52h5.6M513.47 605.07h5.6M515.06 602.58h5.6M515.06 605.22h5.6M516.64 602.63h5.6M516.64 605.57h5.6M518.23 602.69h5.6M518.23 604.83h5.6M519.81 602.75h5.6M519.81 604.82h5.6M521.40 603.09h5.6M521.40 605.72h5.6M522.98 602.87h5.6M522.98 605.31h5.6M524.56 602.93h5.6M524.56 605.68h5.6M526.15 602.99h5.6M526.15 605.00h5.6M527.73 602.96h5.6M527.73 604.95h5.6M529.32 602.97h5.6M529.32 605.20h5.6M530.90 602.67h5.6M530.90 605.25h5.6M532.49 602.73h5.6M532.49 605.16h5.6M534.07 602.67h5.6M534.07 605.73h5.6M535.66 601.93h5.6M535.66 605.16h5.6M537.24 602.39h5.6M537.24 605.20h5.6M538.82 601.08h5.6M538.82 605.02h5.6M540.41 599.82h5.6M540.41 603.05h5.6M541.99 599.41h5.6M541.99 603.75h5.6M543.58 597.08h5.6M543.58 602.97h5.6M545.16 597.35h5.6M545.16 602.23h5.6M546.75 596.38h5.6M546.75 601.26h5.6M548.33 596.01h5.6M548.33 600.93h5.6M549.92 588.80h5.6M549.92 598.11h5.6M551.50 583.64h5.6M551.50 594.11h5.6M553.09 579.03h5.6M553.09 592.49h5.6M554.67 575.15h5.6M554.67 590.29h5.6M556.25 573.25h5.6M556.25 588.37h5.6M557.84 574.40h5.6M557.84 587.08h5.6M559.42 578.76h5.6M559.42 592.33h5.6M561.01 578.26h5.6M561.01 592.76h5.6M562.59 578.42h5.6M562.59 589.32h5.6M564.18 578.17h5.6M564.18 588.07h5.6M565.76 582.30h5.6M565.76 590.46h5.6M567.35 576.64h5.6M567.35 590.14h5.6M568.93 580.01h5.6M568.93 593.91h5.6M570.51 576.50h5.6M570.51 588.90h5.6M572.10 578.51h5.6M572.10 591.33h5.6M573.68 578.12h5.6M573.68 592.53h5.6M575.27 578.93h5.6M575.27 591.88h5.6M576.85 579.07h5.6M576.85 588.81h5.6M578.44 580.25h5.6M578.44 594.57h5.6M580.02 581.43h5.6M580.02 592.64h5.6M581.61 582.68h5.6M581.61 591.89h5.6M583.19 583.96h5.6M583.19 594.09h5.6M584.78 585.24h5.6M584.78 591.17h5.6M586.36 587.09h5.6M586.36 597.15h5.6M587.94 588.97h5.6M587.94 598.22h5.6M589.53 588.07h5.6M589.53 594.53h5.6M591.11 587.58h5.6M591.11 596.62h5.6M592.70 587.67h5.6M592.70 597.87h5.6M594.28 585.32h5.6M594.28 593.31h5.6M595.87 584.63h5.6M595.87 594.18h5.6M597.45 586.47h5.6M597.45 596.43h5.6M599.04 583.60h5.6M599.04 594.00h5.6M600.62 584.27h5.6M600.62 595.67h5.6M602.20 584.46h5.6M602.20 597.27h5.6M603.79 584.86h5.6M603.79 596.19h5.6M605.37 584.89h5.6M605.37 594.41h5.6M606.96 582.54h5.6M606.96 593.50h5.6M608.54 583.11h5.6M608.54 593.89h5.6M610.13 583.06h5.6M610.13 591.85h5.6M611.71 580.84h5.6M611.71 596.14h5.6M613.30 577.93h5.6M613.30 592.49h5.6M614.88 574.26h5.6M614.88 591.69h5.6M616.47 575.09h5.6M616.47 588.64h5.6M618.05 569.01h5.6M618.05 593.99h5.6M619.63 571.42h5.6M619.63 587.87h5.6M621.22 569.86h5.6M621.22 597.89h5.6M622.80 570.38h5.6M622.80 599.47h5.6M624.39 574.83h5.6M624.39 587.81h5.6M625.97 576.19h5.6M625.97 595.18h5.6M627.56 580.34h5.6M627.56 591.69h5.6M629.14 577.03h5.6M629.14 589.40h5.6M630.73 577.81h5.6M630.73 588.71h5.6M632.31 577.03h5.6M632.31 592.38h5.6M633.89 579.57h5.6M633.89 593.03h5.6M635.48 574.00h5.6M635.48 591.23h5.6M637.06 574.94h5.6M637.06 588.29h5.6M638.65 577.04h5.6M638.65 592.89h5.6M640.23 578.05h5.6M640.23 593.21h5.6M641.82 581.50h5.6M641.82 594.41h5.6M643.40 582.60h5.6M643.40 595.35h5.6M644.99 580.46h5.6M644.99 594.17h5.6M646.57 581.62h5.6M646.57 594.16h5.6M648.16 584.11h5.6M648.16 596.58h5.6M649.74 581.67h5.6M649.74 594.26h5.6M651.32 581.56h5.6M651.32 593.23h5.6M652.91 583.29h5.6M652.91 599.05h5.6M654.49 582.13h5.6M654.49 596.13h5.6M656.08 583.48h5.6M656.08 595.67h5.6M657.66 582.57h5.6M657.66 594.42h5.6M659.25 582.39h5.6M659.25 593.38h5.6M660.83 580.65h5.6M660.83 593.75h5.6M662.42 583.91h5.6M662.42 595.20h5.6M664.00 581.14h5.6M664.00 592.06h5.6M665.58 584.00h5.6M665.58 594.26h5.6M667.17 582.13h5.6M667.17 592.23h5.6M668.75 578.49h5.6M668.75 590.36h5.6M670.34 577.77h5.6M670.34 591.54h5.6M671.92 578.59h5.6M671.92 590.02h5.6M673.51 577.60h5.6M673.51 589.85h5.6M675.09 573.56h5.6M675.09 587.74h5.6M676.68 575.64h5.6M676.68 593.08h5.6M678.26 572.40h5.6M678.26 588.67h5.6M679.85 572.81h5.6M679.85 585.77h5.6M681.43 569.03h5.6M681.43 587.03h5.6M683.01 570.22h5.6M683.01 587.32h5.6M684.60 570.83h5.6M684.60 584.43h5.6M686.18 570.94h5.6M686.18 583.64h5.6M687.77 572.28h5.6M687.77 586.69h5.6M689.35 574.45h5.6M689.35 588.38h5.6M690.94 568.01h5.6M690.94 584.02h5.6M692.52 568.59h5.6M692.52 588.58h5.6M694.11 566.82h5.6M694.11 582.15h5.6M695.69 565.25h5.6M695.69 582.49h5.6M697.27 565.73h5.6M697.27 582.82h5.6M698.86 561.92h5.6M698.86 577.33h5.6M700.44 561.25h5.6M700.44 581.79h5.6M702.03 560.51h5.6M702.03 576.13h5.6M703.61 556.67h5.6M703.61 581.09h5.6M705.20 558.01h5.6M705.20 581.74h5.6M706.78 552.05h5.6M706.78 582.76h5.6M708.37 548.61h5.6M708.37 577.60h5.6M709.95 547.64h5.6M709.95 578.64h5.6M711.54 546.67h5.6M711.54 574.25h5.6M713.12 545.70h5.6M713.12 568.19h5.6M714.70 539.51h5.6M714.70 558.90h5.6M716.29 533.10h5.6M716.29 553.13h5.6M717.87 527.60h5.6M717.87 555.08h5.6M719.46 523.07h5.6M719.46 563.39h5.6M721.04 523.56h5.6M721.04 556.58h5.6M722.63 524.04h5.6M722.63 551.77h5.6M724.21 518.80h5.6M724.21 540.83h5.6M725.80 510.31h5.6M725.80 532.99h5.6M727.38 501.99h5.6M727.38 542.06h5.6M728.96 494.99h5.6M728.96 544.94h5.6M730.55 487.99h5.6M730.55 536.50h5.6M732.13 482.13h5.6M732.13 544.08h5.6M733.72 477.97h5.6M733.72 539.86h5.6M735.30 473.81h5.6M735.30 537.48h5.6M736.89 469.22h5.6M736.89 536.65h5.6M738.47 464.49h5.6M738.47 525.90h5.6M740.06 460.94h5.6M740.06 511.42h5.6M741.64 463.55h5.6M741.64 505.49h5.6M743.23 472.36h5.6M743.23 530.02h5.6M744.81 463.73h5.6M744.81 525.70h5.6M746.39 453.62h5.6M746.39 511.94h5.6M747.98 457.89h5.6M747.98 526.47h5.6M749.56 464.35h5.6M749.56 520.42h5.6M751.15 469.03h5.6M751.15 511.73h5.6M752.73 468.01h5.6M752.73 517.53h5.6M754.32 463.45h5.6M754.32 514.73h5.6M755.90 467.90h5.6M755.90 516.46h5.6M757.49 459.13h5.6M757.49 505.84h5.6M759.07 451.34h5.6M759.07 507.71h5.6M760.65 438.40h5.6M760.65 501.00h5.6M762.24 425.24h5.6M762.24 489.72h5.6M763.82 423.56h5.6M763.82 477.55h5.6M765.41 431.13h5.6M765.41 472.31h5.6M766.99 438.71h5.6M766.99 486.62h5.6M768.58 445.52h5.6M768.58 510.32h5.6M770.16 452.22h5.6M770.16 484.24h5.6M771.75 458.03h5.6M771.75 500.30h5.6M773.33 460.63h5.6M773.33 492.58h5.6M774.92 463.24h5.6M774.92 499.97h5.6M776.50 465.54h5.6M776.50 501.66h5.6M778.08 467.67h5.6M778.08 526.80h5.6M779.67 469.95h5.6M779.67 514.67h5.6M781.25 476.65h5.6M781.25 542.46h5.6M782.84 480.83h5.6M782.84 539.74h5.6M784.42 486.22h5.6M784.42 531.97h5.6M786.01 491.53h5.6M786.01 534.87h5.6M787.59 496.85h5.6M787.59 547.06h5.6M789.18 500.36h5.6M789.18 538.35h5.6M790.76 503.44h5.6M790.76 546.07h5.6M792.34 506.31h5.6M792.34 553.23h5.6M793.93 508.44h5.6M793.93 545.41h5.6M795.51 510.57h5.6M795.51 563.56h5.6M797.10 514.04h5.6M797.10 552.74h5.6M798.68 518.30h5.6M798.68 558.08h5.6M800.27 523.47h5.6M800.27 567.21h5.6M801.85 525.63h5.6M801.85 555.45h5.6M803.44 527.05h5.6M803.44 552.93h5.6M805.02 523.97h5.6M805.02 555.59h5.6M806.61 520.89h5.6M806.61 543.74h5.6M808.19 516.19h5.6M808.19 547.06h5.6M809.77 510.74h5.6M809.77 551.55h5.6M811.36 505.76h5.6M811.36 549.66h5.6M812.94 504.93h5.6M812.94 537.94h5.6M814.53 504.10h5.6M814.53 534.76h5.6M816.11 393.61h5.6M816.11 454.55h5.6M817.70 375.32h5.6M817.70 436.26h5.6M819.28 350.95h5.6M819.28 399.70h5.6M820.87 336.32h5.6M820.87 375.32h5.6M822.45 310.12h5.6M822.45 389.34h5.6M824.03 299.15h5.6M824.03 378.37h5.6M825.62 262.58h5.6M825.62 378.37h5.6M827.20 274.77h5.6M827.20 317.43h5.6M828.79 242.47h5.6M828.79 249.78h5.6M830.37 174.83h5.6M830.37 307.68h5.6M831.96 99.26h5.6M831.96 274.77h5.6M833.54 106.57h5.6M833.54 436.87h5.6M835.13 176.05h5.6M835.13 355.21h5.6M836.71 180.31h5.6M836.71 369.23h5.6M838.30 183.36h5.6M838.30 380.81h5.6M839.88 275.38h5.6M839.88 303.41h5.6M841.46 300.37h5.6M841.46 364.96h5.6M843.05 352.17h5.6M843.05 375.32h5.6M844.63 362.17h5.6M844.63 430.63h5.6M846.22 413.98h5.6M846.22 488.76h5.6M847.80 421.07h5.6M847.80 499.44h5.6M849.39 398.26h5.6M849.39 507.11h5.6M850.97 422.85h5.6M850.97 507.02h5.6M852.56 408.15h5.6M852.56 521.71h5.6M854.14 424.92h5.6M854.14 508.95h5.6M855.72 421.99h5.6M855.72 505.37h5.6M857.31 439.81h5.6M857.31 486.57h5.6M858.89 432.49h5.6M858.89 498.38h5.6M860.48 426.23h5.6M860.48 513.01h5.6M862.06 435.24h5.6M862.06 525.86h5.6M863.65 418.47h5.6M863.65 523.54h5.6M865.23 441.50h5.6M865.23 527.13h5.6M866.82 442.08h5.6M866.82 524.40h5.6M868.40 447.06h5.6M868.40 520.40h5.6M869.99 439.56h5.6M869.99 513.94h5.6M871.57 430.91h5.6M871.57 475.16h5.6M873.15 422.27h5.6M873.15 457.55h5.6M874.74 405.42h5.6M874.74 480.48h5.6M876.32 379.19h5.6M876.32 445.91h5.6M877.91 359.31h5.6M877.91 491.72h5.6M879.49 374.89h5.6M879.49 466.65h5.6M881.08 391.24h5.6M881.08 448.46h5.6M882.66 402.52h5.6M882.66 459.96h5.6M884.25 411.96h5.6M884.25 475.27h5.6M885.83 420.26h5.6M885.83 498.62h5.6M887.41 426.82h5.6M887.41 473.14h5.6M889.00 433.45h5.6M889.00 503.49h5.6M890.58 441.32h5.6M890.58 508.56h5.6M892.17 449.19h5.6M892.17 497.57h5.6M893.75 455.91h5.6M893.75 519.54h5.6M895.34 462.21h5.6M895.34 515.35h5.6M896.92 466.92h5.6M896.92 525.53h5.6M898.51 469.17h5.6M898.51 514.05h5.6M900.09 471.42h5.6M900.09 534.44h5.6M901.68 473.68h5.6M901.68 534.10h5.6M903.26 480.75h5.6M903.26 534.69h5.6M904.84 488.62h5.6M904.84 542.80h5.6M906.43 491.55h5.6M906.43 547.45h5.6M908.01 489.97h5.6M908.01 552.76h5.6M909.60 488.99h5.6M909.60 552.99h5.6M911.18 492.51h5.6M911.18 556.13h5.6M912.77 492.14h5.6M912.77 546.83h5.6M914.35 487.42h5.6M914.35 549.05h5.6M915.94 477.79h5.6M915.94 537.14h5.6M917.52 475.02h5.6M917.52 540.47h5.6M919.10 476.04h5.6M919.10 538.44h5.6M920.69 472.40h5.6M920.69 532.87h5.6M922.27 466.89h5.6M922.27 533.62h5.6M923.86 463.10h5.6M923.86 523.79h5.6M925.44 454.95h5.6M925.44 496.73h5.6M927.03 445.51h5.6M927.03 519.62h5.6M928.61 438.90h5.6M928.61 493.98h5.6M930.20 435.75h5.6M930.20 506.21h5.6M931.78 432.39h5.6M931.78 491.12h5.6M933.37 427.41h5.6M933.37 481.88h5.6M934.95 422.43h5.6M934.95 458.26h5.6M936.53 396.60h5.6M936.53 469.59h5.6M938.12 364.87h5.6M938.12 453.34h5.6M939.70 345.15h5.6M939.70 445.13h5.6M941.29 340.49h5.6M941.29 431.44h5.6M942.87 326.17h5.6M942.87 445.76h5.6M944.46 310.92h5.6M944.46 421.06h5.6M946.04 298.61h5.6M946.04 429.01h5.6M947.63 287.02h5.6M947.63 431.99h5.6M949.21 283.14h5.6M949.21 445.35h5.6M950.79 249.92h5.6M950.79 401.55h5.6M952.38 253.06h5.6M952.38 405.91h5.6M953.96 251.25h5.6M953.96 407.51h5.6M955.55 237.23h5.6M955.55 378.20h5.6M957.13 216.96h5.6M957.13 403.20h5.6M958.72 202.65h5.6M958.72 387.38h5.6M960.30 205.81h5.6M960.30 371.20h5.6M961.89 216.85h5.6M961.89 389.75h5.6M963.47 222.14h5.6M963.47 390.01h5.6M965.06 229.21h5.6M965.06 389.12h5.6M966.64 243.12h5.6M966.64 427.39h5.6M968.22 276.56h5.6M968.22 417.18h5.6M969.81 280.96h5.6M969.81 426.50h5.6M972.98 320.76h5.6M972.98 411.67h5.6M974.56 351.47h5.6M974.56 424.23h5.6M976.15 369.76h5.6M976.15 444.38h5.6M977.73 390.13h5.6M977.73 490.48h5.6M979.32 432.34h5.6M979.32 490.97h5.6M980.90 440.80h5.6M980.90 491.50h5.6M982.48 444.83h5.6M982.48 489.75h5.6M984.07 450.26h5.6M984.07 489.28h5.6M985.65 459.04h5.6M985.65 504.77h5.6M987.24 467.82h5.6M987.24 522.29h5.6M988.82 479.34h5.6M988.82 540.66h5.6M990.41 492.36h5.6M990.41 539.76h5.6M991.99 505.51h5.6M991.99 548.30h5.6M993.58 512.88h5.6M993.58 540.99h5.6M995.16 520.69h5.6M995.16 544.83h5.6M996.75 522.66h5.6M996.75 553.98h5.6M998.33 518.04h5.6M998.33 553.65h5.6M999.91 513.41h5.6M999.91 553.32h5.6M1001.50 512.18h5.6M1001.50 565.86h5.6M1003.08 511.70h5.6M1003.08 545.15h5.6M1004.67 512.97h5.6M1004.67 545.67h5.6M1006.25 518.50h5.6M1006.25 562.92h5.6M1007.84 523.89h5.6M1007.84 554.00h5.6M1009.42 526.38h5.6M1009.42 559.86h5.6M1011.01 518.68h5.6M1011.01 558.34h5.6M1012.59 511.40h5.6M1012.59 553.84h5.6M1014.17 508.45h5.6M1014.17 548.48h5.6M1015.76 519.48h5.6M1015.76 557.01h5.6M1017.34 530.51h5.6M1017.34 554.20h5.6M1018.93 535.72h5.6M1018.93 553.50h5.6M1020.51 534.11h5.6M1020.51 555.43h5.6" stroke="#505050" stroke-width="1.1" fill="none"/><g class="gt"><text x="234.2" y="610.85" font-size="11.3" text-anchor="end" fill="#000" stroke="#000" stroke-width="0.12">0</text><text x="234.2" y="580.38" font-size="11.3" text-anchor="end" fill="#000" stroke="#000" stroke-width="0.12">50</text><text x="234.2" y="549.91" font-size="11.3" text-anchor="end" fill="#000" stroke="#000" stroke-width="0.12">100</text><text x="234.2" y="519.44" font-size="11.3" text-anchor="end" fill="#000" stroke="#000" stroke-width="0.12">150</text><text x="234.2" y="488.97" font-size="11.3" text-anchor="end" fill="#000" stroke="#000" stroke-width="0.12">200</text><text x="234.2" y="458.50" font-size="11.3" text-anchor="end" fill="#000" stroke="#000" stroke-width="0.12">250</text><text x="234.2" y="428.03" font-size="11.3" text-anchor="end" fill="#000" stroke="#000" stroke-width="0.12">300</text><text x="234.2" y="397.56" font-size="11.3" text-anchor="end" fill="#000" stroke="#000" stroke-width="0.12">350</text><text x="234.2" y="367.09" font-size="11.3" text-anchor="end" fill="#000" stroke="#000" stroke-width="0.12">400</text><text x="234.2" y="336.61" font-size="11.3" text-anchor="end" fill="#000" stroke="#000" stroke-width="0.12">450</text><text x="234.2" y="306.14" font-size="11.3" text-anchor="end" fill="#000" stroke="#000" stroke-width="0.12">500</text><text x="234.2" y="275.67" font-size="11.3" text-anchor="end" fill="#000" stroke="#000" stroke-width="0.12">550</text><text x="234.2" y="245.20" font-size="11.3" text-anchor="end" fill="#000" stroke="#000" stroke-width="0.12">600</text><text x="234.2" y="214.73" font-size="11.3" text-anchor="end" fill="#000" stroke="#000" stroke-width="0.12">650</text><text x="234.2" y="184.26" font-size="11.3" text-anchor="end" fill="#000" stroke="#000" stroke-width="0.12">700</text><text x="234.2" y="153.79" font-size="11.3" text-anchor="end" fill="#000" stroke="#000" stroke-width="0.12">750</text><text x="234.2" y="123.32" font-size="11.3" text-anchor="end" fill="#000" stroke="#000" stroke-width="0.12">800</text><text x="234.2" y="92.85" font-size="11.3" text-anchor="end" fill="#000" stroke="#000" stroke-width="0.12">850</text><g font-size="9.4" fill="#000" stroke="#000" stroke-width="0.18" text-anchor="end"><text transform="translate(251.69,614) rotate(-90) scale(0.97,1)">5-Οκτ</text><text transform="translate(259.61,614) rotate(-90) scale(0.97,1)">19-Οκτ</text><text transform="translate(267.54,614) rotate(-90) scale(0.97,1)">30-Οκτ</text><text transform="translate(275.46,614) rotate(-90) scale(1.04,1)">11-Νοε</text><text transform="translate(283.38,614) rotate(-90) scale(1.04,1)">23-Νοε</text><text transform="translate(291.30,614) rotate(-90) scale(1.04,1)">04-Δεκ</text><text transform="translate(299.23,614) rotate(-90) scale(1.04,1)">16-Δεκ</text><text transform="translate(307.15,614) rotate(-90) scale(1.04,1)">28-Δεκ</text><text transform="translate(315.07,614) rotate(-90) scale(1.04,1)">8-Ιαν</text><text transform="translate(322.99,614) rotate(-90) scale(1.04,1)">20-Ιαν</text><text transform="translate(330.92,614) rotate(-90) scale(1.04,1)">01-Φεβ</text><text transform="translate(338.84,614) rotate(-90) scale(1.04,1)">09-Φεβ</text><text transform="translate(346.76,614) rotate(-90) scale(1.04,1)">15-Φεβ</text><text transform="translate(354.68,614) rotate(-90) scale(1.04,1)">21-Φεβ</text><text transform="translate(362.61,614) rotate(-90) scale(1.04,1)">26-Φεβ</text><text transform="translate(370.53,614) rotate(-90) scale(1.04,1)">04-Μαρ</text><text transform="translate(378.45,614) rotate(-90) scale(1.04,1)">10-Μαρ</text><text transform="translate(386.37,614) rotate(-90) scale(1.04,1)">16-Μαρ</text><text transform="translate(394.30,614) rotate(-90) scale(1.04,1)">22-Μαρ</text><text transform="translate(402.22,614) rotate(-90) scale(1.04,1)">28-Μαρ</text><text transform="translate(410.14,614) rotate(-90) scale(1.04,1)">02-Απρ</text><text transform="translate(418.06,614) rotate(-90) scale(1.04,1)">08-Απρ</text><text transform="translate(425.99,614) rotate(-90) scale(1.04,1)">14-Απρ</text><text transform="translate(433.91,614) rotate(-90) scale(1.04,1)">20-Απρ</text><text transform="translate(441.83,614) rotate(-90) scale(1.04,1)">26-Απρ</text><text transform="translate(449.75,614) rotate(-90) scale(1.1,1)">02-Μαϊ</text><text transform="translate(457.68,614) rotate(-90) scale(1.1,1)">07-Μαϊ</text><text transform="translate(465.60,614) rotate(-90) scale(1.1,1)">12-Μαϊ</text><text transform="translate(473.52,614) rotate(-90) scale(1.1,1)">18-Μαϊ</text><text transform="translate(481.44,614) rotate(-90) scale(1.1,1)">24-Μαϊ</text><text transform="translate(489.37,614) rotate(-90) scale(1.1,1)">30-Μαϊ</text><text transform="translate(497.29,614) rotate(-90) scale(1.04,1)">04-Ιουν</text><text transform="translate(505.21,614) rotate(-90) scale(1.04,1)">10-Ιουν</text><text transform="translate(513.13,614) rotate(-90) scale(1.04,1)">15-Ιουν</text><text transform="translate(521.06,614) rotate(-90) scale(1.04,1)">20-Ιουν</text><text transform="translate(528.98,614) rotate(-90) scale(1.04,1)">25-Ιουν</text><text transform="translate(536.90,614) rotate(-90) scale(1.04,1)">30-Ιουν</text><text transform="translate(544.82,614) rotate(-90) scale(1.04,1)">05-Ιουλ</text><text transform="translate(552.75,614) rotate(-90) scale(1.04,1)">10-Ιουλ</text><text transform="translate(560.67,614) rotate(-90) scale(1.04,1)">15-Ιουλ</text><text transform="translate(568.59,614) rotate(-90) scale(1.04,1)">20-Ιουλ</text><text transform="translate(576.51,614) rotate(-90) scale(1.04,1)">25-Ιουλ</text><text transform="translate(584.44,614) rotate(-90) scale(1.04,1)">30-Ιουλ</text><text transform="translate(592.36,614) rotate(-90) scale(1.04,1)">04-Αυγ</text><text transform="translate(600.28,614) rotate(-90) scale(1.04,1)">09-Αυγ</text><text transform="translate(608.20,614) rotate(-90) scale(1.04,1)">14-Αυγ</text><text transform="translate(616.13,614) rotate(-90) scale(1.04,1)">19-Αυγ</text><text transform="translate(624.05,614) rotate(-90) scale(1.04,1)">24-Αυγ</text><text transform="translate(631.97,614) rotate(-90) scale(1.04,1)">29-Αυγ</text><text transform="translate(639.89,614) rotate(-90) scale(1.04,1)">03-Σεπ</text><text transform="translate(647.82,614) rotate(-90) scale(1.04,1)">08-Σεπ</text><text transform="translate(655.74,614) rotate(-90) scale(1.04,1)">13-Σεπ</text><text transform="translate(663.66,614) rotate(-90) scale(1.04,1)">18-Σεπ</text><text transform="translate(671.58,614) rotate(-90) scale(1.04,1)">23-Σεπ</text><text transform="translate(679.51,614) rotate(-90) scale(1.04,1)">28-Σεπ</text><text transform="translate(687.43,614) rotate(-90) scale(0.97,1)">03-Οκτ</text><text transform="translate(695.35,614) rotate(-90) scale(0.97,1)">08-Οκτ</text><text transform="translate(703.27,614) rotate(-90) scale(0.97,1)">13-Οκτ</text><text transform="translate(711.20,614) rotate(-90) scale(0.97,1)">18-Οκτ</text><text transform="translate(719.12,614) rotate(-90) scale(0.97,1)">23-Οκτ</text><text transform="translate(727.04,614) rotate(-90) scale(0.97,1)">28-Οκτ</text><text transform="translate(734.96,614) rotate(-90) scale(1.04,1)">02-Νοε</text><text transform="translate(742.89,614) rotate(-90) scale(1.04,1)">07-Νοε</text><text transform="translate(750.81,614) rotate(-90) scale(1.04,1)">12-Νοε</text><text transform="translate(758.73,614) rotate(-90) scale(1.04,1)">17-Νοε</text><text transform="translate(766.65,614) rotate(-90) scale(1.04,1)">22-Νοε</text><text transform="translate(774.58,614) rotate(-90) scale(1.04,1)">27-Νοε</text><text transform="translate(782.50,614) rotate(-90) scale(1.04,1)">02-Δεκ</text><text transform="translate(790.42,614) rotate(-90) scale(1.04,1)">07-Δεκ</text><text transform="translate(798.34,614) rotate(-90) scale(1.04,1)">12-Δεκ</text><text transform="translate(806.27,614) rotate(-90) scale(1.04,1)">17-Δεκ</text><text transform="translate(814.19,614) rotate(-90) scale(1.04,1)">22-Δεκ</text><text transform="translate(822.11,614) rotate(-90) scale(1.04,1)">27-Δεκ</text><text transform="translate(830.03,614) rotate(-90) scale(1.04,1)">01-Ιαν</text><text transform="translate(837.96,614) rotate(-90) scale(1.04,1)">06-Ιαν</text><text transform="translate(845.88,614) rotate(-90) scale(1.04,1)">11-Ιαν</text><text transform="translate(853.80,614) rotate(-90) scale(1.04,1)">16-Ιαν</text><text transform="translate(861.72,614) rotate(-90) scale(1.04,1)">21-Ιαν</text><text transform="translate(869.65,614) rotate(-90) scale(1.04,1)">26-Ιαν</text><text transform="translate(877.57,614) rotate(-90) scale(1.04,1)">31-Ιαν</text><text transform="translate(885.49,614) rotate(-90) scale(1.04,1)">05-Φεβ</text><text transform="translate(893.41,614) rotate(-90) scale(1.04,1)">10-Φεβ</text><text transform="translate(901.34,614) rotate(-90) scale(1.04,1)">15-Φεβ</text><text transform="translate(909.26,614) rotate(-90) scale(1.04,1)">20-Φεβ</text><text transform="translate(917.18,614) rotate(-90) scale(1.04,1)">25-Φεβ</text><text transform="translate(925.10,614) rotate(-90) scale(1.04,1)">02-Μαρ</text><text transform="translate(933.03,614) rotate(-90) scale(1.04,1)">07-Μαρ</text><text transform="translate(940.95,614) rotate(-90) scale(1.04,1)">12-Μαρ</text><text transform="translate(948.87,614) rotate(-90) scale(1.04,1)">17-Μαρ</text><text transform="translate(956.79,614) rotate(-90) scale(1.04,1)">22-Μαρ</text><text transform="translate(964.72,614) rotate(-90) scale(1.04,1)">27-Μαρ</text><text transform="translate(972.64,614) rotate(-90) scale(1.04,1)">01-Απρ</text><text transform="translate(980.56,614) rotate(-90) scale(1.04,1)">06-Απρ</text><text transform="translate(988.48,614) rotate(-90) scale(1.04,1)">11-Απρ</text><text transform="translate(996.41,614) rotate(-90) scale(1.04,1)">16-Απρ</text><text transform="translate(1004.33,614) rotate(-90) scale(1.04,1)">21-Απρ</text><text transform="translate(1012.25,614) rotate(-90) scale(1.04,1)">26-Απρ</text><text transform="translate(1020.17,614) rotate(-90) scale(1.1,1)">01-Μαϊ</text></g><text transform="translate(167,349.5) rotate(-90)" font-size="18" font-weight="bold" text-anchor="middle" textLength="355" lengthAdjust="spacingAndGlyphs">Σχετικός Ρυθμός Έκκρισης Ιικού Φορτίου</text><text x="574" y="702.8" font-size="18" font-weight="bold" textLength="106.7" lengthAdjust="spacingAndGlyphs">Ημερομηνία</text></g></svg></body></html>
